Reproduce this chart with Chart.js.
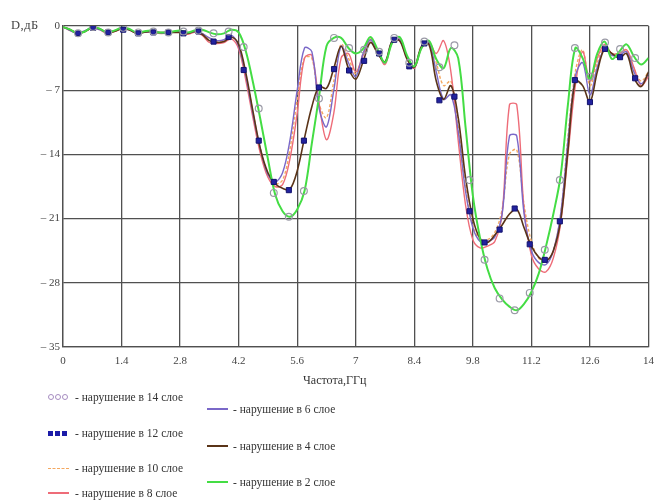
<!DOCTYPE html>
<html>
<head>
<meta charset="utf-8">
<script src="https://cdn.jsdelivr.net/npm/chart.js@4/dist/chart.umd.min.js"></script>
<style>
  html, body { margin: 0; padding: 0; background: #fff; }
  #wrap { position: relative; width: 662px; height: 500px; }
  #chart { position: absolute; left: 0; top: 0; }
  .txt { position: absolute; font-family: 'Liberation Serif', 'Times New Roman', serif; font-size: 11.5px; color: #333; white-space: nowrap; line-height: 14px; }
  .sym { position: absolute; height: 14px; display: flex; align-items: center; }
  .dot { display: inline-block; width: 4px; height: 4px; border: 1px solid #a68cc0; border-radius: 50%; margin-right: 1px; }
  .sq { display: inline-block; width: 5px; height: 5px; background: #1c1ca8; margin-right: 2px; }
  .ln { display: inline-block; width: 21px; height: 1.5px; }
  .dash { display: inline-block; width: 21px; border-top: 1.5px dashed #f4a860; }
</style>
</head>
<body>
<div id="wrap">
  <canvas id="chart" width="662" height="500"></canvas>
</div>
<script>
// Frequency grid of the continuous traces, GHz
const freq = [0,0.175,0.35,0.525,0.7,0.875,1.05,1.225,1.4,1.575,1.75,1.925,2.1,2.275,2.45,2.625,2.8,2.975,3.15,3.325,
  3.5,3.675,3.85,4.025,4.2,4.375,4.55,4.725,4.9,5.075,5.25,5.425,5.6,5.775,5.95,6.125,6.3,6.475,6.65,6.825,
  7,7.175,7.35,7.525,7.7,7.875,8.05,8.225,8.4,8.575,8.75,8.925,9.1,9.275,9.45,9.625,9.8,9.975,10.15,10.325,
  10.5,10.675,10.85,11.025,11.2,11.375,11.55,11.725,11.9,12.075,12.25,12.425,12.6,12.775,12.95,13.125,13.3,13.475,13.65,13.825,14];

// Attenuation D, dB — violation in layer 2
const layer2 = [-0.1,-0.4,-0.8,-0.6,-0.1,-0.3,-0.7,-0.5,-0.2,-0.3,
  -0.7,-0.6,-0.5,-0.7,-0.7,-0.6,-0.5,-0.7,-0.5,-0.4,
  -0.7,-0.9,-0.8,-0.4,-0.7,-2.8,-6.3,-10.3,-14.5,-18.4,
  -20.2,-20.8,-20.0,-18.0,-12.8,-7.6,-2.2,-1.3,-1.3,-2.4,
  -3.0,-2.5,-1.2,-2.6,-4.0,-1.8,-1.2,-3.2,-4.4,-2.4,
  -1.6,-3.6,-4.6,-2.4,-3.5,-11.0,-18.5,-23.2,-26.5,-28.6,
  -29.8,-30.6,-31.0,-30.3,-29.0,-27.0,-24.0,-20.5,-16.3,-8.5,
  -2.4,-3.5,-5.8,-3.0,-1.7,-3.6,-2.8,-2.0,-3.3,-4.2,
  -3.5];

// violation in layer 4
const layer4 = [-0.1,-0.4,-0.8,-0.6,-0.2,-0.3,-0.7,-0.6,-0.3,-0.4,
  -0.8,-0.7,-0.6,-0.7,-0.7,-0.7,-0.7,-0.8,-0.6,-0.9,
  -1.6,-1.8,-1.7,-1.2,-2.0,-5.2,-9.5,-13.5,-16.0,-17.2,
  -17.7,-17.8,-15.8,-12.2,-8.8,-6.6,-6.8,-4.6,-2.2,-4.6,
  -5.8,-3.9,-1.8,-3.0,-3.9,-1.6,-1.6,-3.6,-4.5,-2.2,
  -2.0,-6.0,-8.0,-6.5,-10.0,-16.5,-21.0,-23.2,-23.6,-22.8,
  -21.7,-20.5,-20.0,-22.0,-24.0,-25.2,-25.6,-24.5,-21.2,-13.5,
  -6.0,-6.5,-8.3,-5.0,-2.5,-3.0,-3.5,-3.0,-5.6,-6.6,
  -5.0];

// violation in layer 6
const layer6 = [-0.1,-0.5,-0.8,-0.5,-0.2,-0.4,-0.7,-0.5,-0.3,-0.4,
  -0.7,-0.7,-0.6,-0.7,-0.8,-0.7,-0.6,-0.8,-0.6,-0.8,
  -1.3,-1.6,-1.5,-1.0,-2.2,-5.5,-9.8,-13.5,-16.2,-17.0,
  -16.0,-12.5,-7.0,-2.4,-2.8,-9.0,-11.0,-7.0,-2.2,-4.0,
  -5.5,-3.0,-1.5,-2.8,-4.0,-1.6,-1.5,-3.4,-4.5,-2.3,
  -1.8,-5.0,-8.0,-7.5,-11.5,-18.0,-22.0,-23.5,-23.5,-23.0,
  -20.5,-12.0,-12.0,-20.5,-24.5,-25.8,-26.0,-24.5,-20.5,-12.5,
  -5.5,-4.0,-7.5,-4.5,-2.5,-3.2,-3.2,-2.8,-5.0,-6.3,
  -5.2];

// violation in layer 8
const layer8 = [-0.1,-0.5,-0.8,-0.6,-0.2,-0.4,-0.8,-0.6,-0.3,-0.4,
  -0.8,-0.7,-0.6,-0.8,-0.8,-0.7,-0.7,-0.9,-0.7,-1.0,
  -1.8,-1.9,-1.8,-1.4,-2.5,-6.0,-10.2,-14.0,-16.5,-17.5,
  -17.3,-14.5,-9.5,-3.5,-3.2,-8.5,-12.4,-9.5,-3.5,-3.0,
  -5.0,-3.2,-1.5,-2.8,-4.2,-1.8,-1.6,-3.5,-4.6,-2.4,
  -1.8,-3.0,-1.6,-5.0,-12.5,-19.5,-23.3,-24.2,-24.0,-23.5,
  -20.5,-8.6,-8.6,-20.0,-25.0,-26.5,-26.8,-25.3,-21.5,-14.0,
  -6.5,-2.8,-6.0,-3.5,-2.0,-3.0,-3.0,-2.6,-4.5,-6.5,
  -5.5];

// violation in layer 10
const layer10 = [-0.1,-0.5,-0.8,-0.6,-0.2,-0.4,-0.7,-0.6,-0.3,-0.4,
  -0.7,-0.7,-0.6,-0.7,-0.8,-0.7,-0.6,-0.8,-0.6,-0.8,
  -1.4,-1.7,-1.6,-1.1,-2.1,-5.3,-9.6,-13.5,-16.2,-17.2,
  -16.8,-13.5,-8.0,-3.5,-3.5,-8.5,-10.0,-6.0,-2.0,-3.5,
  -5.2,-3.0,-1.4,-2.8,-4.0,-1.6,-1.4,-3.3,-4.4,-2.2,
  -1.7,-4.0,-6.5,-6.0,-11.0,-17.5,-21.8,-23.3,-23.3,-22.5,
  -20.0,-14.0,-13.5,-19.5,-23.5,-25.3,-25.8,-24.5,-20.5,-12.0,
  -5.0,-2.6,-6.5,-4.0,-2.3,-3.0,-3.0,-2.6,-4.6,-6.0,
  -5.0];

// Coarser grid of the symbol-only traces, GHz
const markFreq = [0.36,0.72,1.08,1.44,1.8,2.16,2.52,2.88,3.24,3.6,
  3.96,4.32,4.68,5.04,5.4,5.76,6.12,6.48,6.84,7.2,
  7.56,7.92,8.28,8.64,9,9.36,9.72,10.08,10.44,10.8,
  11.16,11.52,11.88,12.24,12.6,12.96,13.32,13.68];

// violation in layer 12 (squares)
const layer12 = [-0.8,-0.2,-0.7,-0.4,-0.8,-0.7,-0.7,-0.8,-0.6,-1.7,
  -1.2,-4.8,-12.5,-17.0,-17.9,-12.5,-6.7,-4.7,-4.85,-3.8,
  -3.0,-1.5,-4.4,-1.9,-8.1,-7.7,-20.2,-23.6,-22.2,-19.9,
  -23.8,-25.5,-21.3,-5.9,-8.3,-2.5,-3.4,-5.7];

// violation in layer 14 (circles)
const layer14 = [-0.8,-0.1,-0.7,-0.2,-0.7,-0.6,-0.7,-0.6,-0.5,-0.8,
  -0.6,-2.3,-9.0,-18.2,-20.8,-18.0,-7.9,-1.3,-2.4,-2.6,
  -2.8,-1.3,-4.0,-1.7,-4.5,-2.1,-16.8,-25.5,-29.7,-31.0,
  -29.1,-24.4,-16.8,-2.4,-5.5,-1.8,-2.5,-3.5];

const xTicks = [0, 1.4, 2.8, 4.2, 5.6, 7, 8.4, 9.8, 11.2, 12.6, 14];
const yTicks = [0, -7, -14, -21, -28, -35];

const xTitle = 'Частота,ГГц';
const yTitle = 'D,дБ';
const legendText = {
  l14: '- нарушение в 14 слое',
  l12: '- нарушение в 12 слое',
  l10: '- нарушение в 10 слое',
  l8: '- нарушение в 8 слое',
  l6: '- нарушение в 6 слое',
  l4: '- нарушение в 4 слое',
  l2: '- нарушение в 2 слое'
};

const pts = (xs, ys) => xs.map((x, i) => ({ x: x, y: ys[i] }));
const FONT = "'Liberation Serif', 'Times New Roman', serif";

function curve(data, color, width, order, dash) {
  return {
    data: pts(freq, data),
    borderColor: color,
    borderWidth: width,
    borderDash: dash || [],
    pointRadius: 0,
    tension: 0.35,
    fill: false,
    order: order
  };
}

new Chart(document.getElementById('chart'), {
  type: 'line',
  data: {
    datasets: [
      {
        data: pts(markFreq, layer14),
        showLine: false,
        pointStyle: 'circle',
        pointRadius: 3.4,
        pointBorderWidth: 1.2,
        pointBorderColor: '#9a9aa6',
        pointBackgroundColor: 'rgba(255,255,255,0)',
        order: 0
      },
      {
        data: pts(markFreq, layer12),
        showLine: false,
        pointStyle: 'rect',
        pointRadius: 3.6,
        pointBorderWidth: 1,
        pointBorderColor: '#12126e',
        pointBackgroundColor: '#22229e',
        order: 1
      },
      curve(layer2, '#44dd44', 2, 2),
      curve(layer4, '#5a3418', 1.6, 3),
      curve(layer6, '#7a68c8', 1.4, 4),
      curve(layer8, '#ee6c78', 1.4, 5),
      curve(layer10, '#f4a860', 1.4, 6, [3, 2])
    ]
  },
  options: {
    responsive: false,
    animation: false,
    events: [],
    layout: { padding: { left: 0, right: 8, top: 26, bottom: 0 } },
    plugins: { legend: { display: false }, tooltip: { enabled: false } },
    scales: {
      x: {
        type: 'linear',
        min: 0,
        max: 14,
        afterBuildTicks: (s) => { s.ticks = xTicks.map(v => ({ value: v })); },
        afterFit: (s) => { s.height = 153; },
        grid: { color: '#505050', lineWidth: 1.3, drawTicks: false },
        border: { color: '#505050', width: 1.3 },
        ticks: {
          padding: 8,
          maxRotation: 0,
          autoSkip: false,
          color: '#444',
          font: { family: FONT, size: 11 },
          callback: (v) => String(v)
        }
      },
      y: {
        type: 'linear',
        min: -35,
        max: 0,
        afterBuildTicks: (s) => { s.ticks = yTicks.map(v => ({ value: v })); },
        afterFit: (s) => { s.width = 63; },
        grid: { color: '#505050', lineWidth: 1.3, drawTicks: false },
        border: { color: '#505050', width: 1.3 },
        ticks: {
          padding: 3,
          autoSkip: false,
          color: '#444',
          font: { family: FONT, size: 11 },
          callback: (v) => v === 0 ? '0' : '\u2013 ' + Math.abs(v)
        }
      }
    }
  }
});

// Axis captions and the two-column legend
const wrap = document.getElementById('wrap');
function addText(str, left, top, extra) {
  const d = document.createElement('div');
  d.className = 'txt';
  d.textContent = str;
  d.style.left = left + 'px';
  d.style.top = top + 'px';
  if (extra) Object.assign(d.style, extra);
  wrap.appendChild(d);
  return d;
}
function addSym(html, left, top) {
  const d = document.createElement('div');
  d.className = 'sym';
  d.innerHTML = html;
  d.style.left = left + 'px';
  d.style.top = top + 'px';
  wrap.appendChild(d);
}

addText(yTitle, 11, 18, { fontSize: '12.5px', color: '#444', letterSpacing: '0.5px' });
addText(xTitle, 303, 373, { fontSize: '12px' });

const dots = '<span class="dot"></span><span class="dot"></span><span class="dot"></span>';
const squares = '<span class="sq"></span><span class="sq"></span><span class="sq"></span>';
const line = (c) => '<span class="ln" style="background:' + c + '"></span>';

addSym(dots, 48, 390);            addText(legendText.l14, 75, 390);
addSym(squares, 48, 426);         addText(legendText.l12, 75, 426);
addSym('<span class="dash"></span>', 48, 461); addText(legendText.l10, 75, 461);
addSym(line('#ee6c78'), 48, 486); addText(legendText.l8, 75, 486);

addSym(line('#7a68c8'), 207, 402); addText(legendText.l6, 233, 402);
addSym(line('#5a3418'), 207, 439); addText(legendText.l4, 233, 439);
addSym(line('#44dd44'), 207, 475); addText(legendText.l2, 233, 475);
</script>
</body>
</html>
